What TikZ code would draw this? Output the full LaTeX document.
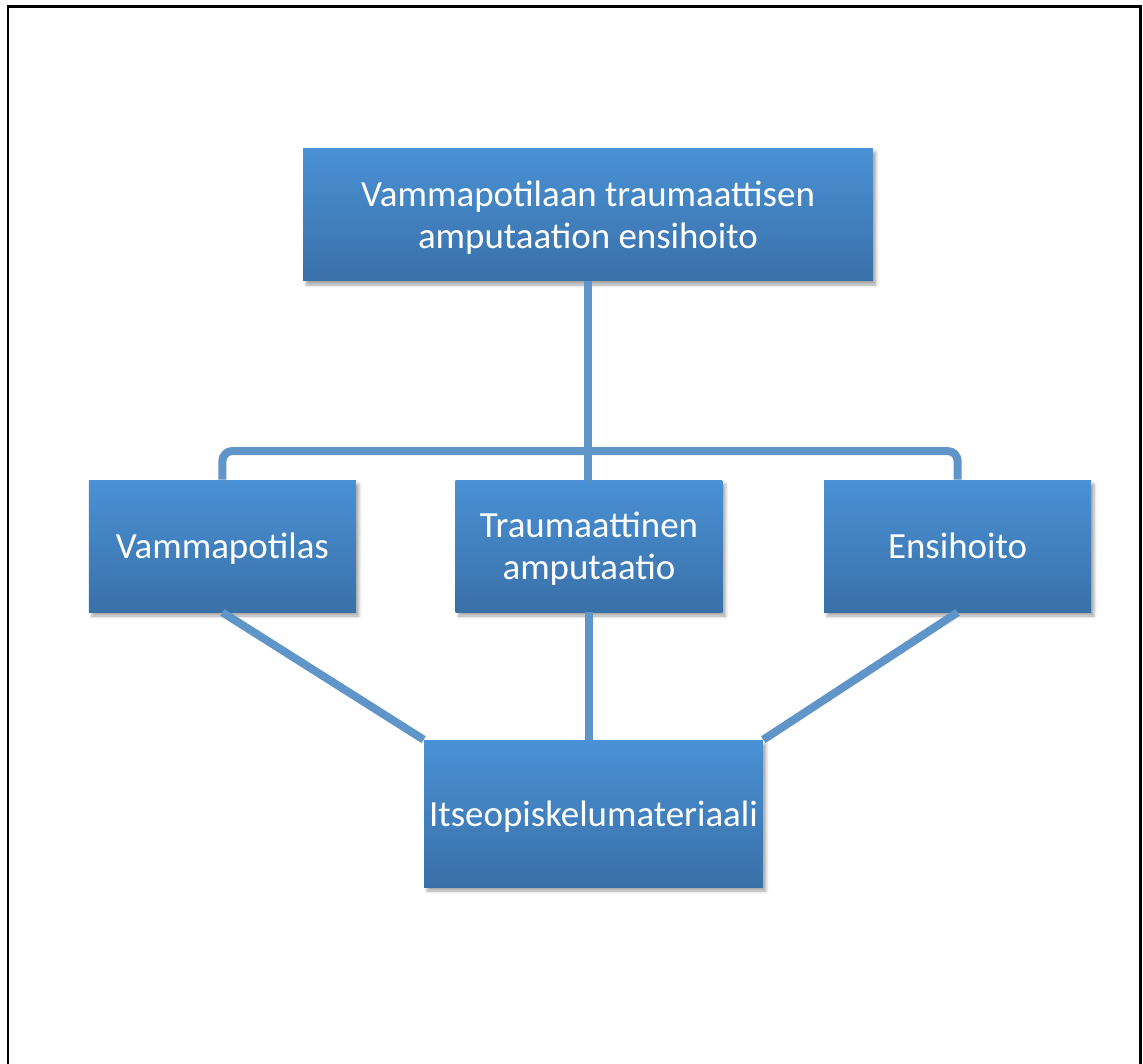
\documentclass[tikz,border=0pt]{standalone}
\usepackage{fontspec}
\setmainfont{Carlito}
\usepackage{tikz}
\usetikzlibrary{
  positioning,
  shadows.blur
}
\usepackage{xcolor}
\definecolor{boxTop}{RGB}{74,145,213}
\definecolor{boxBottom}{RGB}{57,112,168}
\definecolor{linkBlue}{RGB}{95,149,201}
\tikzset{
  topic/.style={
    top color=boxTop,
    bottom color=boxBottom,
    text=white,
    align=center,
    inner sep=0pt,
    text depth=-3pt,
    font=\fontsize{21}{24}\selectfont,
    blur shadow={shadow xshift=0.06cm, shadow yshift=-0.08cm,
      shadow blur radius=0.06cm, shadow opacity=35}
  },
  link/.style={
    draw=linkBlue,
    line width=0.16cm,
    preaction={draw=black!45, opacity=0.35,
      transform canvas={xshift=0.04cm, yshift=-0.06cm}}
  }
}

\begin{document}
\begin{tikzpicture}[x=0.02cm, y=-0.02cm]
  \useasboundingbox (0,0) rectangle (1143,1063);

  % frame, no bottom edge
  \draw[line width=0.06cm] (8,1070) -- (8,6) -- (1140,6) -- (1140,1070);

  \node[topic, minimum width=11.4cm, minimum height=2.66cm] (main) at (588,214.5)
    {Vammapotilaan traumaattisen\\amputaation ensihoito};

  \node[topic, minimum width=5.34cm, minimum height=2.64cm] (trauma) at (589,546)
    {Traumaattinen\\amputaatio};
  \node[topic, minimum width=5.34cm, minimum height=2.64cm,
    left=1.98cm of trauma] (patient) {Vammapotilas};
  \node[topic, minimum width=5.34cm, minimum height=2.64cm,
    right=2.02cm of trauma] (care) {Ensihoito};

  \node[topic, minimum width=6.78cm, minimum height=2.94cm] (material) at (593.5,813.5)
    {Itseopiskelumateriaali};

  \coordinate (hub) at (main.south |- 0,451);

  \draw[link] (main.south) -- (hub);
  \draw[link, rounded corners=0.2cm] (hub) -| (patient.north);
  \draw[link, rounded corners=0.2cm] (hub) -| (care.north);
  \draw[link] (hub) -- (trauma.north -| hub);

  \draw[link] (patient.south) -- (material.north west);
  \draw[link] (trauma.south) -- (trauma.south |- material.north);
  \draw[link] (care.south) -- (material.north east);
\end{tikzpicture}
\end{document}
